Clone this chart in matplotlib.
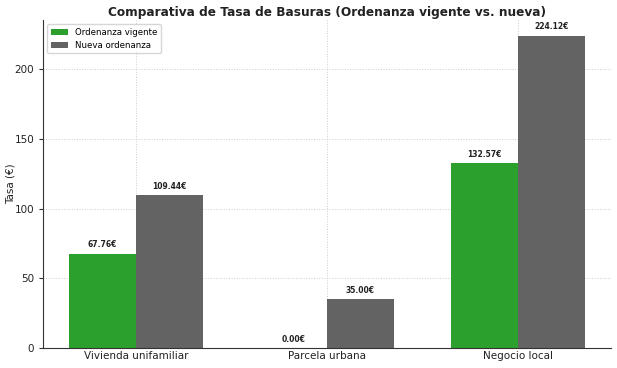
import matplotlib.pyplot as plt
import numpy as np

# Datos
categorias = ['Vivienda unifamiliar', 'Parcela urbana', 'Negocio local']
vigente = [67.76, 0.00, 132.57]
nueva = [109.44, 35.00, 224.12]

x = np.arange(len(categorias))
ancho = 0.35

fig = plt.figure(figsize=(6.17, 3.68), dpi=100)
ax = fig.add_axes([0.070, 0.054, 0.920, 0.892])

b1 = ax.bar(x - ancho/2, vigente, ancho, label='Ordenanza vigente', color='#2ca02c')
b2 = ax.bar(x + ancho/2, nueva, ancho, label='Nueva ordenanza', color='#636363')

# Etiquetas de valor
for barras in (b1, b2):
    for b in barras:
        h = b.get_height()
        ax.annotate(f'{h:.2f}€', xy=(b.get_x() + b.get_width()/2, h),
                    xytext=(0, 3), textcoords='offset points',
                    ha='center', va='bottom', fontsize=5.5, fontweight='bold',
                    color='#222222')

ax.set_title('Comparativa de Tasa de Basuras (Ordenanza vigente vs. nueva)',
             fontsize=8.7, fontweight='bold', color='#222222', pad=3)
ax.set_ylabel('Tasa (€)', fontsize=7.5, color='#222222')
ax.yaxis.set_label_coords(-0.048, 0.5)
ax.set_xticks(x)
ax.set_xticklabels(categorias, fontsize=7.5, color='#222222')
ax.tick_params(axis='y', labelsize=7.5, labelcolor='#222222', length=3, color='#333333')
ax.tick_params(axis='x', length=0, pad=2)
ax.grid(True, linestyle=':', color='#cccccc', linewidth=0.7)
ax.set_axisbelow(True)
ax.spines['top'].set_visible(False)
ax.spines['right'].set_visible(False)
for s in ('left', 'bottom'):
    ax.spines[s].set_color('#333333')
ax.legend(loc='upper left', fontsize=6.2)

fig.savefig('out.png', dpi=100)
